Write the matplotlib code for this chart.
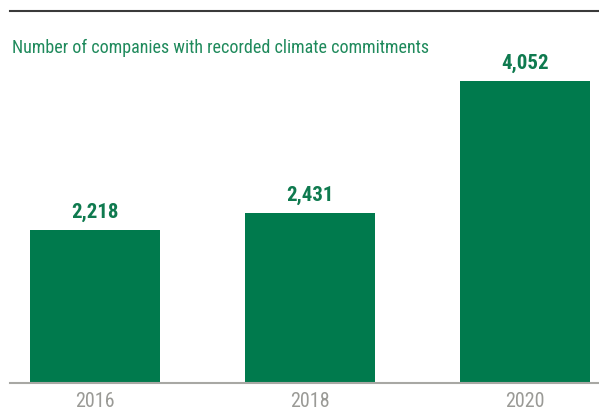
import matplotlib
matplotlib.use("Agg")
import matplotlib.pyplot as plt
from matplotlib import font_manager

years = ["2016", "2018", "2020"]
values = [2218, 2431, 4052]
title = "Number of companies with recorded climate commitments"

names = {f.name for f in font_manager.fontManager.ttflist}
fam = "DejaVu Sans"
for cand in ["Roboto Condensed", "Barlow Semi Condensed", "Archivo Narrow", "Barlow Condensed"]:
    if cand in names:
        fam = cand
        break
plt.rcParams["font.family"] = [fam, "DejaVu Sans"]

W, H = 599, 411
fig = plt.figure(figsize=(W / 100, H / 100), dpi=100)
base_px = 383.3
top_px = 11
ax = fig.add_axes([10 / W, (H - base_px) / H, 589 / W, (base_px - top_px) / H])

bar_color = "#007a4d"
x = list(range(len(years)))
ax.bar(x, values, width=0.605, color=bar_color, zorder=2)
ax.set_xlim(-0.395, 2.344)
ax.set_ylim(330, 4915)

for xi, v in zip(x, values):
    ax.annotate(f"{v:,}", (xi, v), xytext=(0, 5.5), textcoords="offset points",
                ha="center", va="bottom", fontsize=15, fontweight="bold",
                color="#0f7a4f")

ax.set_xticks(x)
ax.set_xticklabels(years, fontsize=14.5, color="#9a9a96")
ax.tick_params(axis="x", length=0, pad=6.5)
ax.set_yticks([])
for s in ["left", "right"]:
    ax.spines[s].set_visible(False)
ax.spines["bottom"].set_color("#a8a8a4")
ax.spines["bottom"].set_linewidth(1.5)
ax.spines["bottom"].set_zorder(3)
ax.spines["top"].set_color("#3a3a3a")
ax.spines["top"].set_linewidth(1.5)

fig.text(12 / W, 1 - 47.5 / H, title, fontsize=13, color="#1f8a5c",
         ha="left", va="center")

fig.savefig("out.png", dpi=100)
